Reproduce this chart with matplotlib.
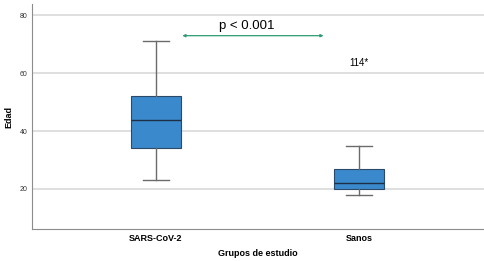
import matplotlib
matplotlib.use("Agg")
import matplotlib.pyplot as plt

# data
groups = ["SARS-CoV-2", "Sanos"]
whislo = [23, 18]
q1 = [34, 20]
med = [44, 22]
q3 = [52, 27]
whishi = [71, 35]
outlier_label = "114*"
outlier_value = 63.5
p_text = "p < 0.001"
arrow_y = 73

plt.rcParams['font.family'] = ['Liberation Sans', 'DejaVu Sans']

fig = plt.figure(figsize=(4.85, 2.61), dpi=100)
ax = fig.add_axes([0.066, 0.123, 0.932, 0.86])

stats = []
for i in range(len(groups)):
    stats.append(dict(label=groups[i], whislo=whislo[i], q1=q1[i], med=med[i],
                      q3=q3[i], whishi=whishi[i], fliers=[]))

ax.bxp(stats, positions=[0, 1], widths=0.25, patch_artist=True,
       boxprops=dict(facecolor='#3a89cc', edgecolor='#2b4a6a', linewidth=0.8),
       medianprops=dict(color='#1c2f45', linewidth=1.0),
       whiskerprops=dict(color='#6b6b6b', linewidth=1.0),
       capprops=dict(color='#6b6b6b', linewidth=1.0),
       capwidths=0.125, zorder=3)

ax.set_xlim(-0.61, 1.615)
ax.set_ylim(6.2, 83.8)
ax.set_yticks([20, 40, 60, 80])
ax.yaxis.grid(True, color='#d9d9d9', linewidth=1.2, zorder=0)
ax.set_axisbelow(True)

for s in ['top', 'right']:
    ax.spines[s].set_visible(False)
ax.spines['left'].set_color('#8c8c8c')
ax.spines['bottom'].set_color('#8c8c8c')

ax.tick_params(axis='y', length=0, labelsize=5, pad=3)
ax.tick_params(axis='x', length=0, labelsize=6.5, pad=4)
for t in ax.get_yticklabels():
    t.set_color('#333333')
for t in ax.get_xticklabels():
    t.set_fontweight('bold')
ax.set_ylabel("Edad", fontsize=6.5, fontweight='bold', labelpad=5)
ax.set_xlabel("Grupos de estudio", fontsize=6.5, fontweight='bold', labelpad=4)

# significance arrow
ax.annotate("", xy=(0.13, arrow_y), xytext=(0.825, arrow_y),
            arrowprops=dict(arrowstyle='<|-|>', color='#2e9a72', lw=0.9,
                            mutation_scale=4, shrinkA=0, shrinkB=0))
ax.text(0.445, arrow_y + 1.2, p_text, fontsize=9.5, ha='center', va='bottom')

ax.text(1, outlier_value, outlier_label, fontsize=7, ha='center', va='center')

fig.savefig("out.png", dpi=100)
